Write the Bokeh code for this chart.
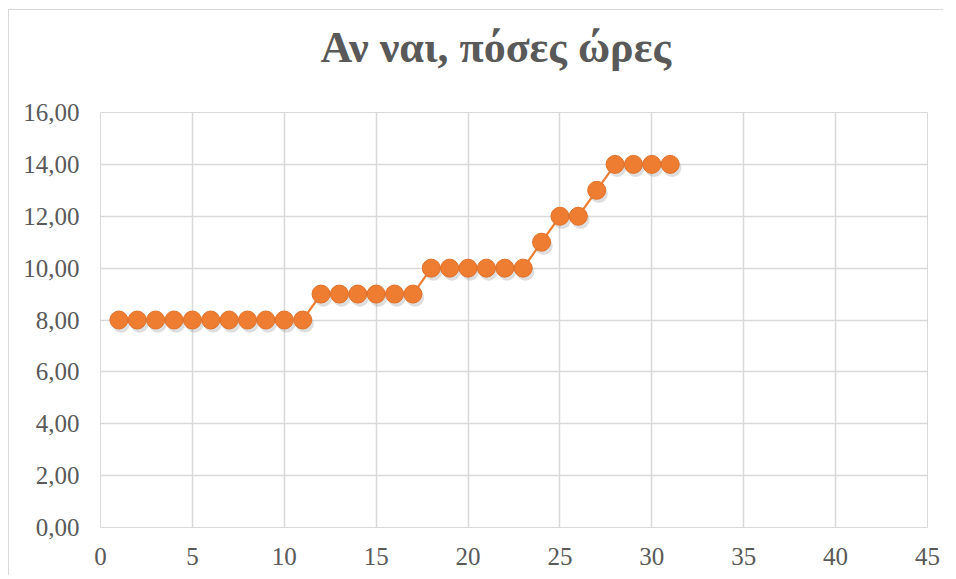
from bokeh.plotting import figure
from bokeh.embed import file_html
from bokeh.resources import INLINE
from bokeh.models import ColumnDataSource, FixedTicker
from bokeh.transform import dodge

# Data
respondent = list(range(1, 32))
hours = [8, 8, 8, 8, 8, 8, 8, 8, 8, 8, 8,
         9, 9, 9, 9, 9, 9,
         10, 10, 10, 10, 10, 10,
         11, 12, 12, 13, 14, 14, 14, 14]
x_ticks = [0, 5, 10, 15, 20, 25, 30, 35, 40, 45]
y_ticks = [0, 2, 4, 6, 8, 10, 12, 14, 16]
y_tick_labels = ["0,00", "2,00", "4,00", "6,00", "8,00", "10,00", "12,00", "14,00", "16,00"]
title_text = "Αν ναι, πόσες ώρες"

src = ColumnDataSource(dict(x=respondent, y=hours))

FONT = "Liberation Serif"
GRAY_TXT = "#595959"
GRID = "#d9d9d9"

p = figure(width=935, height=566, x_range=(0, 45), y_range=(0, 16),
           output_backend="svg", toolbar_location=None,
           min_border_left=91, min_border_right=17, min_border_top=102, min_border_bottom=49)

# trailing empty line lifts the title away from the plotting frame
p.title.text = title_text + "\n "
p.title.text_font = FONT
p.title.text_font_style = "bold"
p.title.text_font_size = "44px"
p.title.text_color = GRAY_TXT
p.title.align = "left"
p.title.offset = 220
p.title.text_line_height = 0.82
p.title.standoff = 0

p.styles = {"margin": "9px 0px 0px 8px",
            "border-top": "1px solid #d9d9d9", "border-left": "1px solid #d9d9d9"}

p.outline_line_color = GRID
p.background_fill_color = "white"
p.border_fill_color = "white"

p.xaxis.ticker = FixedTicker(ticks=x_ticks)
p.yaxis.ticker = FixedTicker(ticks=y_ticks)
p.yaxis.major_label_overrides = {t: l for t, l in zip(y_ticks, y_tick_labels)}

for ax in (p.xaxis, p.yaxis):
    ax.major_tick_line_color = None
    ax.minor_tick_line_color = None
    ax.major_label_text_font = FONT
    ax.major_label_text_font_size = "25px"
    ax.major_label_text_color = GRAY_TXT
p.yaxis.axis_line_color = None
p.xaxis.axis_line_color = GRID
p.yaxis.major_label_standoff = 15
p.xaxis.major_label_standoff = 14

p.xgrid.ticker = FixedTicker(ticks=x_ticks)
p.ygrid.ticker = FixedTicker(ticks=y_ticks)
p.xgrid.grid_line_color = GRID
p.ygrid.grid_line_color = GRID
p.xgrid.grid_line_width = 1.5
p.ygrid.grid_line_width = 1.5

# line
p.line("x", "y", source=src, line_color="#ED7D31", line_width=2.2)
# shadow
p.scatter(x=dodge("x", 0.12), y=dodge("y", -0.14), source=src, size=18,
          fill_color="#7a7a7a", fill_alpha=0.25, line_color=None)
# markers
p.scatter("x", "y", source=src, size=18, fill_color="#EE7D31",
          line_color="#E07028", line_width=1)

open("out.html", "w").write(file_html(p, INLINE))
